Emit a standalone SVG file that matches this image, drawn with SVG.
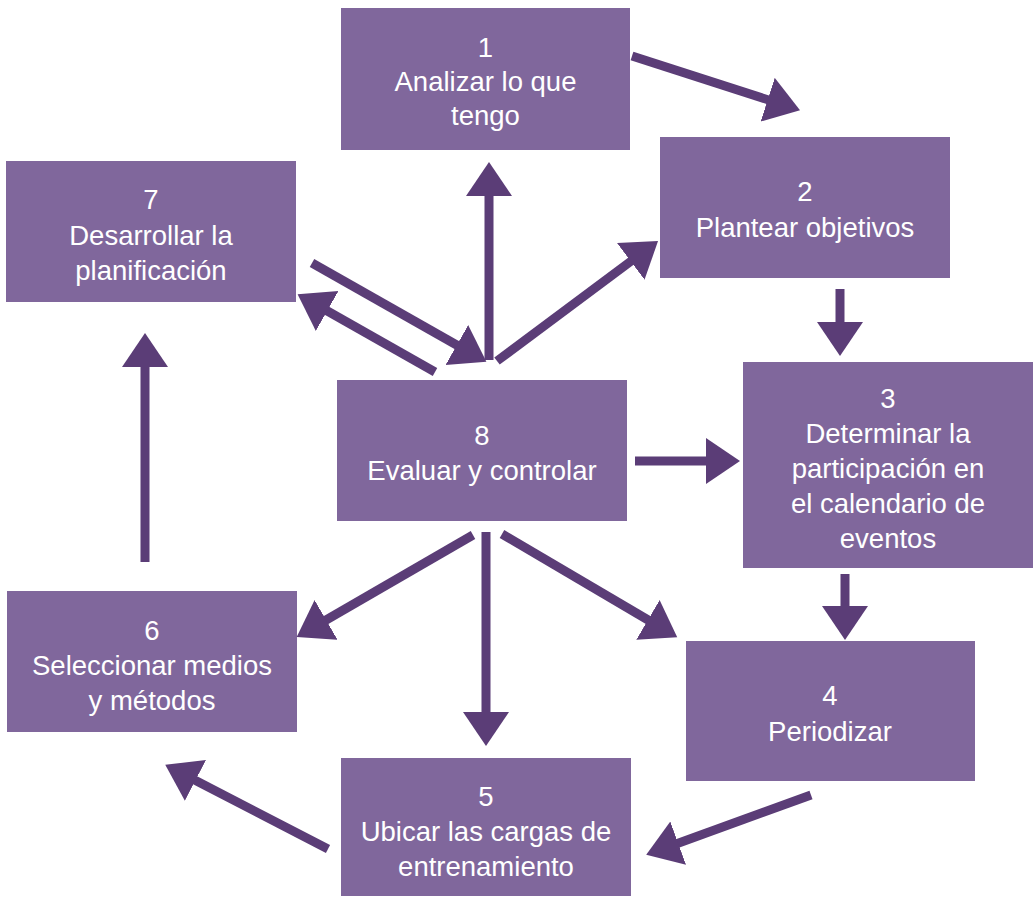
<svg xmlns="http://www.w3.org/2000/svg" width="1036" height="897" viewBox="0 0 1036 897">
  <style>
    .box { fill: #80679c; }
    .lbl { fill: #ffffff; font-family: "Liberation Sans", Arial, sans-serif; font-size: 27.5px; text-anchor: middle; }
    .arr { stroke: #5b3d77; stroke-width: 9; fill: none; marker-end: url(#head); }
  </style>
  <defs>
    <marker id="head" markerUnits="userSpaceOnUse" markerWidth="36" markerHeight="48" refX="14" refY="23" orient="auto" viewBox="0 0 36 48">
      <path d="M0,0 L34,23 L0,46 Z" fill="#5b3d77"/>
    </marker>
  </defs>
  <rect width="1036" height="897" fill="#ffffff"/>

  <g id="n1"><rect class="box" x="341" y="8" width="289" height="142"/>
    <text class="lbl" x="485.5" y="57">1</text><text class="lbl" x="485.5" y="91">Analizar lo que</text><text class="lbl" x="485.5" y="125">tengo</text></g>
  <g id="n2"><rect class="box" x="660" y="137" width="290" height="141"/>
    <text class="lbl" x="805" y="201">2</text><text class="lbl" x="805" y="237">Plantear objetivos</text></g>
  <g id="n3"><rect class="box" x="743" y="362" width="290" height="206"/>
    <text class="lbl" x="888" y="408">3</text><text class="lbl" x="888" y="443">Determinar la</text><text class="lbl" x="888" y="478">participación en</text><text class="lbl" x="888" y="513">el calendario de</text><text class="lbl" x="888" y="548">eventos</text></g>
  <g id="n4"><rect class="box" x="686" y="641" width="289" height="140"/>
    <text class="lbl" x="830" y="705">4</text><text class="lbl" x="830" y="741">Periodizar</text></g>
  <g id="n5"><rect class="box" x="341" y="758" width="290" height="138"/>
    <text class="lbl" x="486" y="806">5</text><text class="lbl" x="486" y="841">Ubicar las cargas de</text><text class="lbl" x="486" y="876">entrenamiento</text></g>
  <g id="n6"><rect class="box" x="7" y="591" width="290" height="141"/>
    <text class="lbl" x="152" y="640">6</text><text class="lbl" x="152" y="675">Seleccionar medios</text><text class="lbl" x="152" y="710">y métodos</text></g>
  <g id="n7"><rect class="box" x="6" y="161" width="290" height="141"/>
    <text class="lbl" x="151" y="209">7</text><text class="lbl" x="151" y="245">Desarrollar la</text><text class="lbl" x="151" y="280">planificación</text></g>
  <g id="n8"><rect class="box" x="337" y="380" width="290" height="141"/>
    <text class="lbl" x="482" y="445">8</text><text class="lbl" x="482" y="480">Evaluar y controlar</text></g>

  <g id="connectors">
    <line class="arr" x1="632" y1="56" x2="781" y2="104"/>
    <line class="arr" x1="840" y1="289" x2="840" y2="336"/>
    <line class="arr" x1="845" y1="574" x2="845" y2="620"/>
    <line class="arr" x1="811" y1="795" x2="665" y2="848"/>
    <line class="arr" x1="328" y1="849" x2="183" y2="774"/>
    <line class="arr" x1="145" y1="562" x2="145" y2="353"/>
    <line class="arr" x1="435" y1="372" x2="315" y2="304"/>
    <line class="arr" x1="312" y1="263" x2="469" y2="352"/>
    <line class="arr" x1="489" y1="360" x2="489" y2="182"/>
    <line class="arr" x1="497" y1="361" x2="642" y2="253"/>
    <line class="arr" x1="635" y1="461" x2="720" y2="461"/>
    <line class="arr" x1="486" y1="532" x2="486" y2="726"/>
    <line class="arr" x1="473" y1="535" x2="314" y2="627"/>
    <line class="arr" x1="502" y1="534" x2="660" y2="627"/>
  </g>
</svg>
